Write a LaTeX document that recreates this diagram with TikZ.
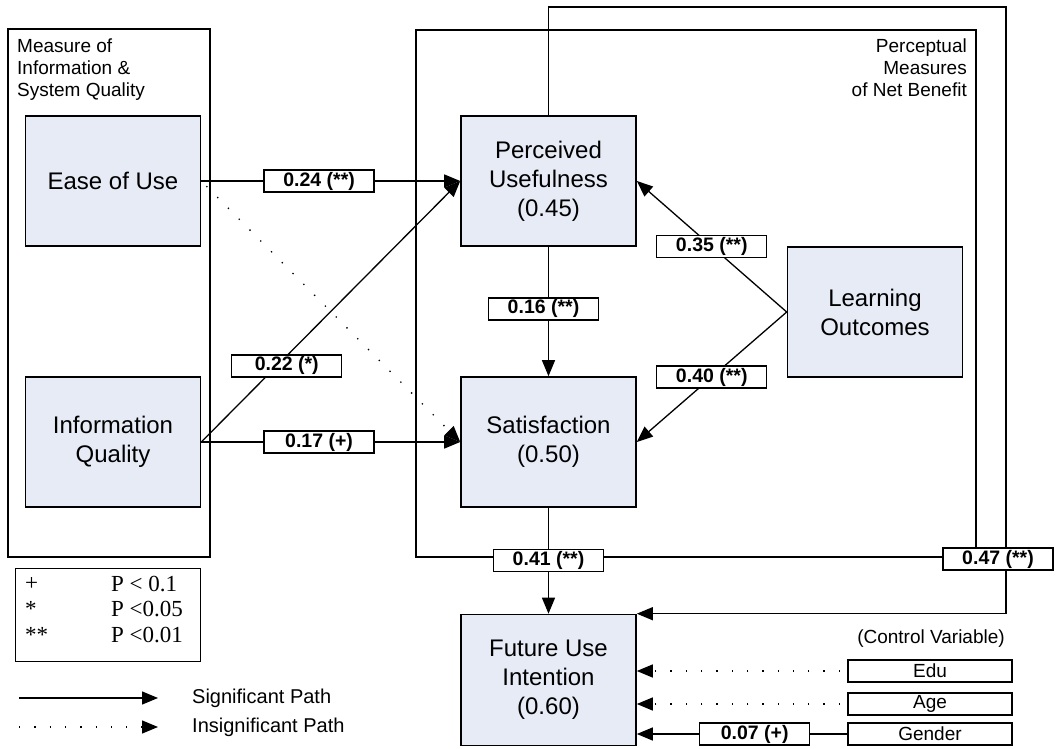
\documentclass[tikz,border=0pt]{standalone}
\usepackage{fontspec}
\setmainfont{Liberation Sans}
\newfontfamily\legendfont{Liberation Serif}
\usetikzlibrary{arrows.meta}
\definecolor{boxfill}{RGB}{231,235,246}

\begin{document}
\begin{tikzpicture}[x=1pt,y=-1pt,
  construct/.style={draw,line width=1.6pt,fill=boxfill,minimum width=175pt,minimum height=130pt,
                    inner sep=0pt,align=center,font=\fontsize{24}{29}\selectfont},
  group/.style={draw,line width=1.3pt},
  coef/.style={draw,line width=1.3pt,fill=white,minimum width=110pt,minimum height=22pt,
               inner sep=0pt,font=\fontsize{19.5}{22}\selectfont\bfseries},
  ctrl/.style={draw,line width=1.3pt,fill=white,minimum width=164pt,minimum height=22pt,
               inner sep=0pt,font=\fontsize{19}{22}\selectfont},
  sig/.style={line width=1.3pt,-{Triangle[length=16pt,width=13pt]}},
  insig/.style={line width=1.3pt,dash pattern=on 1.3pt off 14pt,dash phase=8pt,
                -{Triangle[length=16pt,width=13pt]}}]
\useasboundingbox (0,0) rectangle (1058,749);

% grouping frames
\draw[group] (8,29) rectangle (210,557);
\draw[group] (416,30) rectangle (976,557);
\node (grpleft) [anchor=north west,inner sep=0pt,align=left,font=\fontsize{19}{22}\selectfont] at (17,39)
  {Measure of\\Information \&\\System Quality};
\node (grpright) [anchor=north east,inner sep=0pt,align=right,font=\fontsize{19}{22}\selectfont] at (967,39)
  {Perceptual\\Measures\\of Net Benefit};

% constructs
\node (eou) [construct] at (113,181) {Ease of Use};
\node (iq)  [construct] at (113,442) {Information\\Quality};
\node (pu)  [construct] at (548.5,181) {Perceived\\Usefulness\\(0.45)};
\node (sat) [construct] at (548.5,442) {Satisfaction\\(0.50)};
\node (lo)  [construct] at (875,312) {Learning\\Outcomes};
\node (fui) [construct,minimum height=131pt] at (548.5,680) {Future Use\\Intention\\(0.60)};

% paths
\draw[sig] (eou.east) -- node[coef,pos=0.455] {0.24 (**)} (pu.west);
\draw[insig] (eou.east) -- (sat.west);
\draw[sig] (iq.east) -- node[coef,pos=0.33,yshift=-10pt] {0.22 (*)} (pu.west);
\draw[sig] (iq.east) -- node[coef,pos=0.455] {0.17 (+)} (sat.west);
\draw[sig] (pu.south) -- node[coef,pos=0.48,xshift=-5pt] {0.16 (**)} (sat.north);
\draw[sig] (lo.west) -- node[coef] {0.35 (**)} (pu.east);
\draw[sig] (lo.west) -- node[coef] {0.40 (**)} (sat.east);
\draw[sig] (sat.south) -- node[coef] {0.41 (**)} (fui.north);
\coordinate (fbtop) at (1006,7);
\draw[sig] (pu.north) |- (fbtop) |- node[coef,pos=0.455,xshift=-8pt] {0.47 (**)} (fui.north east);

% control variables
\node (ctrltitle) [font=\fontsize{19}{22}\selectfont] at (931,639) {(Control Variable)};
\node (edu) [ctrl] at (930,671) {Edu};
\node (age) [ctrl] at (930,704) {Age};
\node (gender) [ctrl] at (930,734) {Gender};
\draw[insig] (edu.west) -- (fui.east |- edu.west);
\draw[insig] (age.west) -- (fui.east |- age.west);
\draw[sig] (gender.west) -- node[coef,pos=0.44] {0.07 (+)} (fui.east |- gender.west);

% legend
\node (legend) [draw,line width=1.3pt,anchor=north west,minimum width=185pt,minimum height=93pt,inner sep=0pt] at (15,568) {};
\begin{scope}[every node/.style={anchor=west,inner sep=0pt,font=\fontsize{23}{25}\legendfont}]
  \node (plus)  at (25,584) {+};
  \node (star)  at (25,609) {*};
  \node (stars) at (25,635) {**};
  \node (p1) at (111,584) {P < 0.1};
  \node (p2) at (111,609) {P <0.05};
  \node (p3) at (111,635) {P <0.01};
\end{scope}
\coordinate (sigfrom) at (19,698);
\coordinate (sigto) at (158,698);
\coordinate (insigfrom) at (19,727);
\coordinate (insigto) at (158,727);
\draw[sig] (sigfrom) -- (sigto);
\draw[insig,dash phase=0pt] (insigfrom) -- (insigto);
\node (sigtext) [anchor=west,inner sep=0pt,font=\fontsize{20}{22}\selectfont] at (192,698) {Significant Path};
\node (insigtext) [anchor=west,inner sep=0pt,font=\fontsize{20}{22}\selectfont] at (192,727) {Insignificant Path};
\end{tikzpicture}
\end{document}
